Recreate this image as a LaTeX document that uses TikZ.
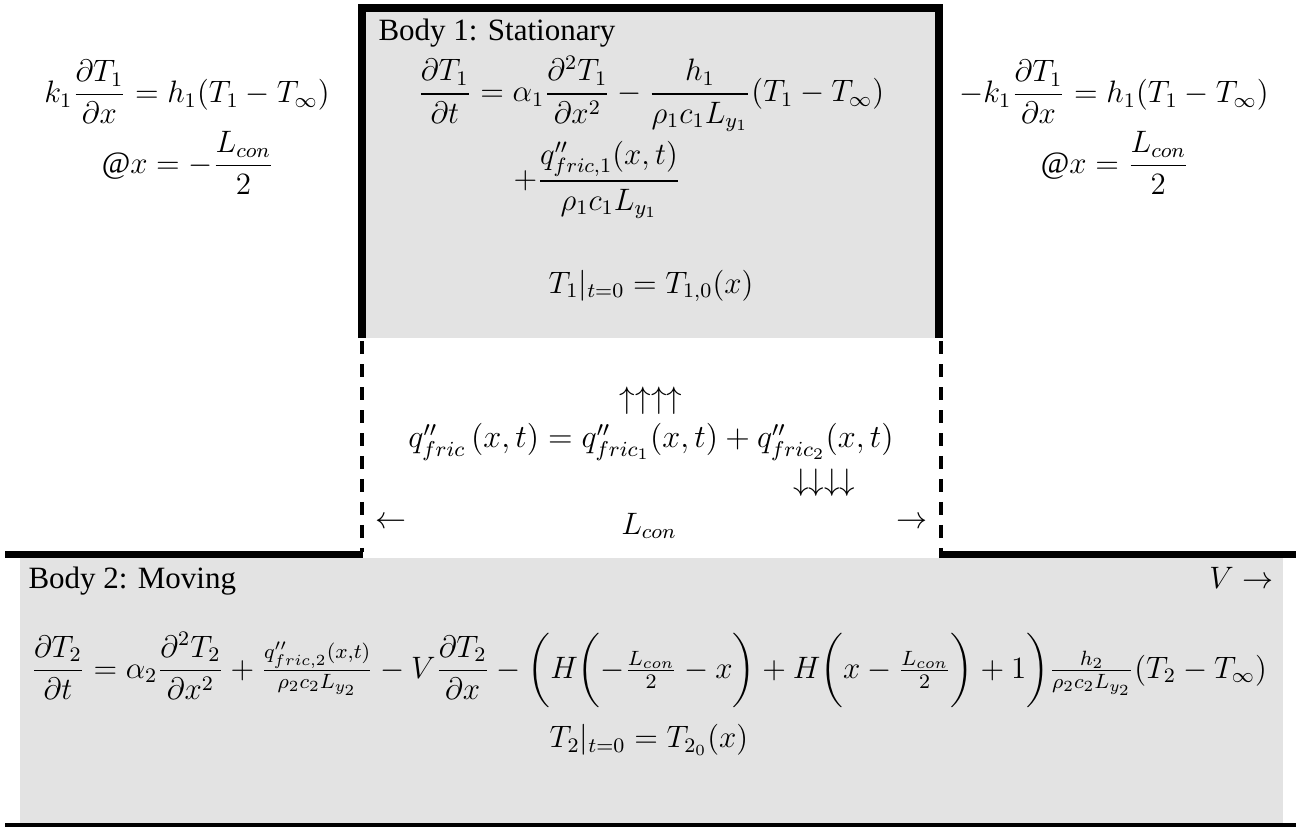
\documentclass[12pt,tikz,border=0pt]{standalone}
\usepackage{amsmath}
\usepackage{fontspec}
\setmainfont{Liberation Serif}
\definecolor{bodygray}{RGB}{227,227,227}
\tikzset{
  eq/.style={inner sep=0pt, font=\fontsize{12}{14.4}\selectfont},
  lbl/.style={inner sep=0pt, font=\fontsize{12}{14.4}\selectfont},
  thickedge/.style={line width=3.1pt, line join=miter},
  dashedge/.style={line width=1.9pt, dash pattern=on 5pt off 3.9pt},
  baseedge/.style={line width=2.7pt}
}
\begin{document}
\begin{tikzpicture}[x=0.387pt, y=-0.387pt]
\useasboundingbox (0,0) rectangle (1296,827);
% body 1
\fill[bodygray] (362,8) rectangle (939,338);
\draw[thickedge] (362,338) -- (362,8) -- (939,8) -- (939,338);
% contact zone dashes
\draw[dashedge] (362,341) -- (362,552);
\draw[dashedge] (941,341) -- (941,552);
% body 2
\fill[bodygray] (20,558) rectangle (1283,823);
\draw[baseedge] (5,554.5) -- (363,554.5);
\draw[baseedge] (939,554.5) -- (1296,554.5);
\fill[black] (5,823) rectangle (1296,827);
% left boundary condition
\node[eq] (lbc1) at (187,92) {$k_1\dfrac{\partial T_1}{\partial x}=h_1(T_1-T_\infty)$};
\node[eq] (lbc2) at (188,163) {$@x=-\dfrac{L_{con}}{2}$};
% right boundary condition
\node[eq] (rbc1) at (1114,92) {$-k_1\dfrac{\partial T_1}{\partial x}=h_1(T_1-T_\infty)$};
\node[eq] (rbc2) at (1115,163) {$@x=\dfrac{L_{con}}{2}$};
% body 1 content
\node[lbl, anchor=base west] (b1title) at (378,40) {Body 1: Stationary};
\node[eq] (b1eq1) at (651,94) {$\dfrac{\partial T_1}{\partial t}=\alpha_1\dfrac{\partial^2T_1}{\partial x^2}-\dfrac{h_1}{\rho_1c_1L_{y_1}}(T_1-T_\infty)$};
\node[eq, anchor=west] (b1eq2) at (513,180) {$+\dfrac{q^{\prime\prime}_{fric,1}(x,t)}{\rho_1c_1L_{y_1}}$};
\node[eq] (b1init) at (651,286) {$T_1|_{t=0}=T_{1,0}(x)$};
% contact zone content
\node[eq] (uparr) at (651,401) {$\uparrow\uparrow\uparrow\uparrow$};
\node[eq, scale=1.04] (qeq) at (651,442) {$q^{\prime\prime}_{fric}\,(x,t)=q^{\prime\prime}_{fric_1}(x,t)+q^{\prime\prime}_{fric_2}(x,t)$};
\node[eq] (downarr) at (824,483) {$\downarrow\downarrow\downarrow\downarrow$};
\node[eq] (larr) at (391,523) {$\leftarrow$};
\node[eq] (lcon) at (649,526) {$L_{con}$};
\node[eq] (rarr) at (912,523) {$\rightarrow$};
% body 2 content
\node[lbl, anchor=base west] (b2title) at (28,588) {Body 2: Moving};
\node[eq, anchor=base east] (vel) at (1274,588) {$V\rightarrow$};
\node[eq] (b2eq) at (649,670) {$\dfrac{\partial T_2}{\partial t}=\alpha_2\dfrac{\partial^2T_2}{\partial x^2}+\frac{q^{\prime\prime}_{fric,2}(x,t)}{\rho_2c_2L_{y_2}}-V\dfrac{\partial T_2}{\partial x}-\biggl(H\biggl(-\frac{L_{con}}{2}-x\biggr)+H\biggl(x-\frac{L_{con}}{2}\biggr)+1\biggr)\frac{h_2}{\rho_2c_2L_{y_2}}(T_2-T_\infty)$};
\node[eq] (b2init) at (649,740) {$T_2|_{t=0}=T_{2_0}(x)$};
\end{tikzpicture}
\end{document}
